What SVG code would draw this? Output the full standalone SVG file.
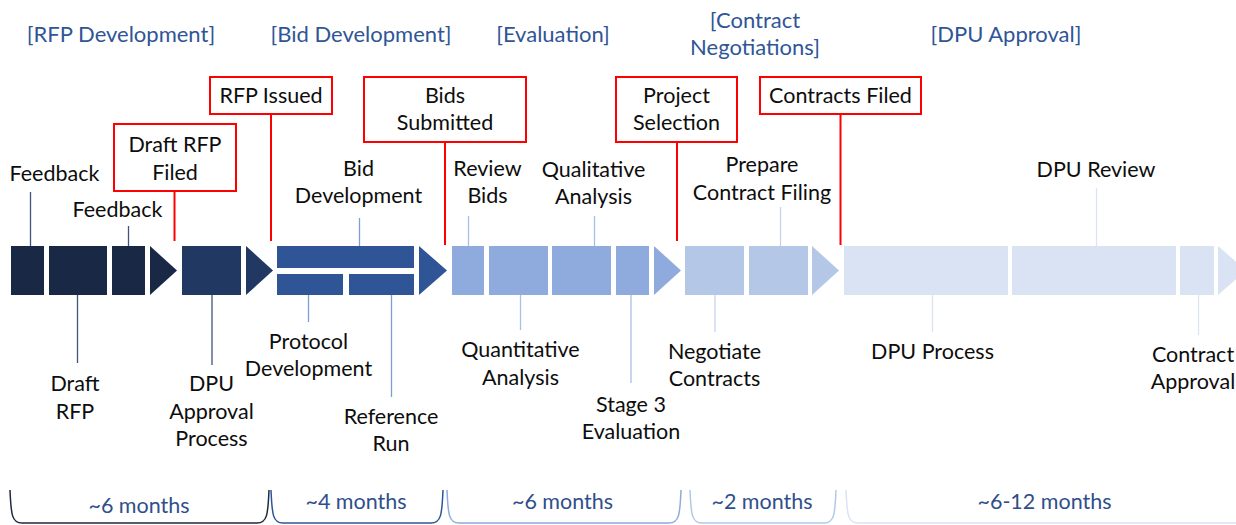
<svg xmlns="http://www.w3.org/2000/svg" width="1236" height="525" viewBox="0 0 1236 525">
<style>
text{font-family:Lato,"Open Sans","Liberation Sans",sans-serif;font-size:21.5px;text-anchor:middle;fill:#0d0d0d}
.ph{fill:#2F5597;font-size:22px}
.dur{fill:#2F4F8C}
.ms{fill:#fff;stroke:#FF0000;stroke-width:2}
.red{stroke:#FF0000;stroke-width:2;fill:none}
.c1{fill:#182845}.c2{fill:#213863}.c3{fill:#2F5597}.c4{fill:#8FAADC}.c5{fill:#B4C7E7}.c6{fill:#DAE3F3}
.t1{stroke:#3F5478;stroke-width:1.3}.t2{stroke:#3F5478;stroke-width:1.3}.t3{stroke:#7F9FD4;stroke-width:1.3}.t4{stroke:#A9C0E6;stroke-width:1.3}.t5{stroke:#C5D4EE;stroke-width:1.3}.t6{stroke:#DCE4F2;stroke-width:1.3}
.br{fill:none;stroke-width:1.5}
</style>

<g id="phase-titles">
<text class="ph" x="121" y="42">[RFP Development]</text>
<text class="ph" x="361" y="42">[Bid Development]</text>
<text class="ph" x="553" y="42">[Evaluation]</text>
<text class="ph" x="755" y="28">[Contract</text>
<text class="ph" x="755" y="55">Negotiations]</text>
<text class="ph" x="1006" y="42">[DPU Approval]</text>
</g>

<g id="bar-rfp">
<rect class="c1" x="11" y="246" width="33" height="49"/>
<rect class="c1" x="49" y="246" width="58" height="49"/>
<rect class="c1" x="112" y="246" width="33" height="49"/>
<polygon class="c1" points="150,246 177,270.5 150,295"/>
<rect class="c2" x="182" y="246" width="59" height="49"/>
<polygon class="c2" points="246,246 273,270.5 246,295"/>
</g>
<g id="bar-bid">
<rect class="c3" x="277" y="246" width="137" height="22"/>
<rect class="c3" x="277" y="274" width="66" height="21"/>
<rect class="c3" x="349" y="274" width="65" height="21"/>
<polygon class="c3" points="419,246 447,270.5 419,295"/>
</g>
<g id="bar-eval">
<rect class="c4" x="452" y="246" width="32" height="49"/>
<rect class="c4" x="489" y="246" width="59" height="49"/>
<rect class="c4" x="552" y="246" width="59" height="49"/>
<rect class="c4" x="616" y="246" width="33" height="49"/>
<polygon class="c4" points="654,246 681,270.5 654,295"/>
</g>
<g id="bar-contract">
<rect class="c5" x="685" y="246" width="59" height="49"/>
<rect class="c5" x="749" y="246" width="59" height="49"/>
<polygon class="c5" points="812,246 839,270.5 812,295"/>
</g>
<g id="bar-dpu">
<rect class="c6" x="844" y="246" width="164" height="49"/>
<rect class="c6" x="1012" y="246" width="164" height="49"/>
<rect class="c6" x="1180" y="246" width="34" height="49"/>
<polygon class="c6" points="1218,246 1246,270.5 1218,295"/>
</g>

<g id="connectors">
<line class="t1" x1="30.5" y1="192" x2="30.5" y2="246"/>
<line class="t1" x1="128.5" y1="226" x2="128.5" y2="246"/>
<line class="t1" x1="77.5" y1="295" x2="77.5" y2="363"/>
<line class="t2" x1="212" y1="295" x2="212" y2="365"/>
<line class="t3" x1="359.5" y1="218" x2="359.5" y2="246"/>
<line class="t3" x1="308.5" y1="295" x2="308.5" y2="322"/>
<line class="t3" x1="391.5" y1="295" x2="391.5" y2="397"/>
<line class="t4" x1="468.5" y1="216" x2="468.5" y2="246"/>
<line class="t4" x1="594.5" y1="216" x2="594.5" y2="246"/>
<line class="t4" x1="520.5" y1="295" x2="520.5" y2="330"/>
<line class="t4" x1="631" y1="295" x2="631" y2="383"/>
<line class="t5" x1="780.5" y1="207" x2="780.5" y2="246"/>
<line class="t5" x1="715" y1="295" x2="715" y2="332"/>
<line class="t6" x1="1096.5" y1="188" x2="1096.5" y2="246"/>
<line class="t6" x1="932.5" y1="295" x2="932.5" y2="332"/>
<line class="t6" x1="1198.5" y1="295" x2="1198.5" y2="335"/>
<line class="red" x1="174.5" y1="191" x2="174.5" y2="241"/>
<line class="red" x1="271" y1="114" x2="271" y2="241"/>
<line class="red" x1="445" y1="142" x2="445" y2="245"/>
<line class="red" x1="677" y1="142" x2="677" y2="241"/>
<line class="red" x1="840.5" y1="114" x2="840.5" y2="245"/>
</g>

<g id="ms-draft-rfp-filed">
<rect class="ms" x="114" y="124" width="122" height="67"/>
<text x="175" y="152">Draft RFP</text>
<text x="175" y="179.5">Filed</text>
</g>
<g id="ms-rfp-issued">
<rect class="ms" x="210" y="77" width="122" height="37"/>
<text x="271" y="103">RFP Issued</text>
</g>
<g id="ms-bids-submitted">
<rect class="ms" x="364" y="77" width="162" height="65"/>
<text x="445" y="103">Bids</text>
<text x="445" y="130">Submitted</text>
</g>
<g id="ms-project-selection">
<rect class="ms" x="616" y="77" width="121" height="65"/>
<text x="676.5" y="103">Project</text>
<text x="676.5" y="130">Selection</text>
</g>
<g id="ms-contracts-filed">
<rect class="ms" x="760" y="77" width="161" height="37"/>
<text x="840.5" y="103">Contracts Filed</text>
</g>

<g id="lbl-feedback-1"><text x="54.5" y="180.5">Feedback</text></g>
<g id="lbl-feedback-2"><text x="117.5" y="216.5">Feedback</text></g>
<g id="lbl-bid-development"><text x="358.5" y="176">Bid</text><text x="358.5" y="203">Development</text></g>
<g id="lbl-review-bids"><text x="487.5" y="176">Review</text><text x="487.5" y="203">Bids</text></g>
<g id="lbl-qualitative"><text x="593.5" y="177">Qualitative</text><text x="593.5" y="204">Analysis</text></g>
<g id="lbl-prepare"><text x="762" y="172">Prepare</text><text x="762" y="199.5">Contract Filing</text></g>
<g id="lbl-dpu-review"><text x="1096" y="177">DPU Review</text></g>
<g id="lbl-draft-rfp"><text x="75" y="391">Draft</text><text x="75" y="418.5">RFP</text></g>
<g id="lbl-dpu-approval-process"><text x="211.5" y="391">DPU</text><text x="211.5" y="418.5">Approval</text><text x="211.5" y="446">Process</text></g>
<g id="lbl-protocol"><text x="308.5" y="348.5">Protocol</text><text x="308.5" y="376">Development</text></g>
<g id="lbl-reference-run"><text x="391" y="423.5">Reference</text><text x="391" y="451">Run</text></g>
<g id="lbl-quantitative"><text x="520.5" y="357">Quantitative</text><text x="520.5" y="384.5">Analysis</text></g>
<g id="lbl-stage3"><text x="631" y="412">Stage 3</text><text x="631" y="439">Evaluation</text></g>
<g id="lbl-negotiate"><text x="714.5" y="358.5">Negotiate</text><text x="714.5" y="386">Contracts</text></g>
<g id="lbl-dpu-process"><text x="932.5" y="358.5">DPU Process</text></g>
<g id="lbl-contract-approval"><text x="1193" y="362">Contract</text><text x="1193" y="389">Approval</text></g>

<g id="durations">
<path class="br" stroke="#1F2A3C" d="M10,490 C11,515 12,523 22,523 H257 C267,523 268,515 269,490"/>
<text class="dur" x="139" y="513">~6 months</text>
<path class="br" stroke="#2F5597" d="M271,490 C272,515 273,523 283,523 H431 C441,523 442,515 443,490"/>
<text class="dur" x="356" y="508.5">~4 months</text>
<path class="br" stroke="#8FAADC" d="M447,490 C448,515 449,523 459,523 H669 C679,523 680,515 681,490"/>
<text class="dur" x="562.5" y="509">~6 months</text>
<path class="br" stroke="#B4C7E7" d="M690,490 C691,515 692,523 702,523 H824 C834,523 835,515 836,490"/>
<text class="dur" x="762" y="508.5">~2 months</text>
<path class="br" stroke="#DAE3F3" d="M846,490 C847,515 848,523 858,523 H1250"/>
<text class="dur" x="1044.5" y="508.5">~6-12 months</text>
</g>
</svg>
